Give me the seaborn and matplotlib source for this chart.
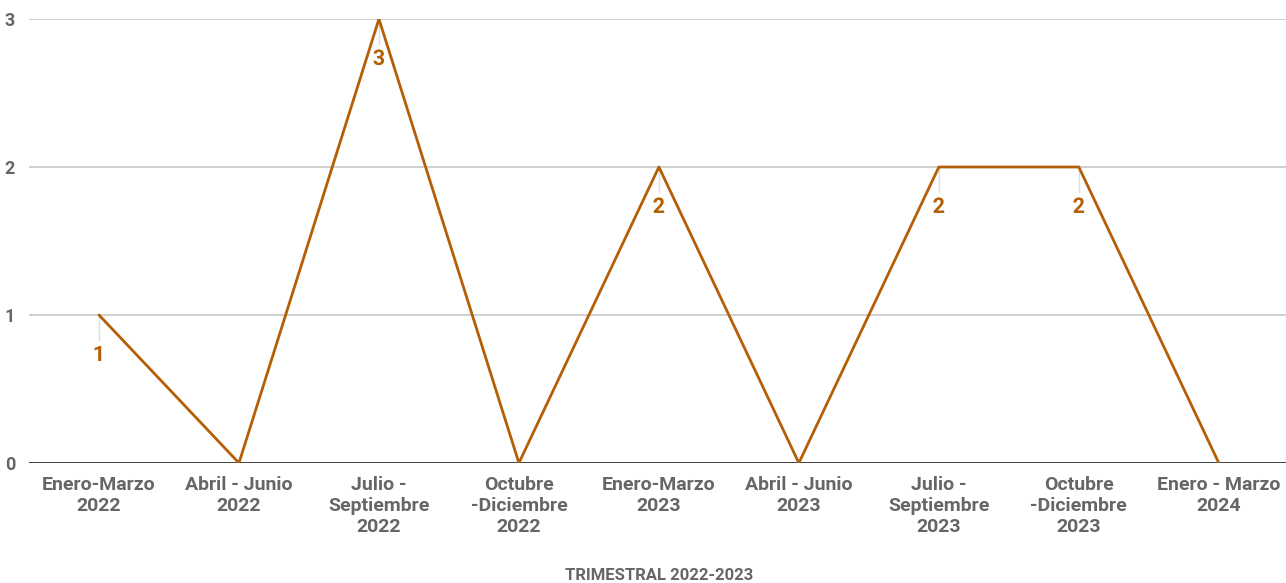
import matplotlib
matplotlib.use("Agg")
import matplotlib.pyplot as plt
import matplotlib.patheffects as pe
import seaborn as sns
import pandas as pd

periodos = [
    "Enero-Marzo\n2022", "Abril - Junio\n2022", "Julio -\nSeptiembre\n2022",
    "Octubre\n-Diciembre\n2022", "Enero-Marzo\n2023", "Abril - Junio\n2023",
    "Julio -\nSeptiembre\n2023", "Octubre\n-Diciembre\n2023", "Enero - Marzo\n2024",
]
valores = [1, 0, 3, 0, 2, 0, 2, 2, 0]
y_ticks = [0, 1, 2, 3]

LINE_COLOR = "#B45F06"
TEXT_GRAY = "#666666"

sns.set_style("white")
plt.rcParams["font.family"] = ["Roboto", "DejaVu Sans"]

df = pd.DataFrame({"x": range(len(periodos)), "valor": valores})

fig = plt.figure(figsize=(12.86, 5.83), dpi=100)
ax = fig.add_axes([29 / 1286, 1 - 463 / 583, 1 - 29 / 1286, (463 - 19) / 583])

for yv in y_ticks[1:]:
    ax.axhline(yv, color="#cccccc", lw=1.3, zorder=0)
ax.axhline(0, color="#333333", lw=1.3, zorder=1)

sns.lineplot(data=df, x="x", y="valor", color=LINE_COLOR, lw=2, ax=ax, zorder=3)

# etiquetas de datos debajo de cada punto (solo valores distintos de cero)
for i, v in enumerate(valores):
    if v == 0:
        continue
    ax.plot([i, i], [v, v - 0.17], color="#dddddd", lw=1, zorder=2)
    ax.text(i, v - 0.27, str(v), ha="center", va="center", fontsize=15.5,
            fontweight="bold", color=LINE_COLOR, zorder=4,
            path_effects=[pe.withStroke(linewidth=3, foreground="white")])

ax.set_xlim(-0.5, 8.48)
ax.set_ylim(0, 3)
ax.set_xticks(range(len(periodos)))
ax.set_xticklabels(periodos, fontsize=14, fontweight="bold", color=TEXT_GRAY,
                   linespacing=1.25)
ax.set_yticks(y_ticks)
ax.set_yticklabels([str(t) for t in y_ticks], fontsize=13, fontweight="bold",
                   color=TEXT_GRAY)
ax.tick_params(axis="both", length=0)
ax.tick_params(axis="x", pad=9)
ax.tick_params(axis="y", pad=10)
ax.set_xlabel("")
ax.set_ylabel("")
for s in ax.spines.values():
    s.set_visible(False)

fig.text(659 / 1286, 1 - 575 / 583, "TRIMESTRAL 2022-2023", ha="center",
         va="center", fontsize=12, fontweight="bold", color=TEXT_GRAY)

fig.savefig("out.png", dpi=100)
